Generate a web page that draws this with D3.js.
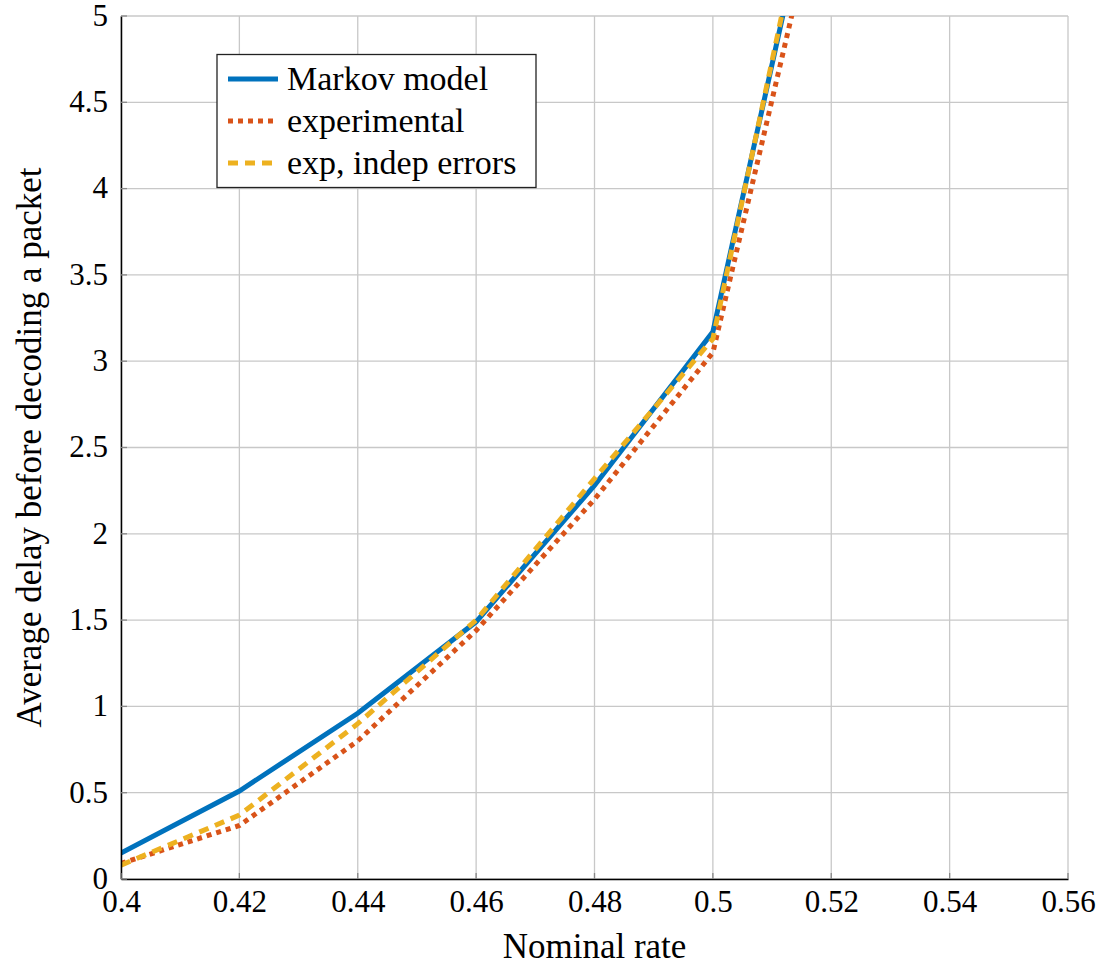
<!DOCTYPE html>
<html><head><meta charset="utf-8">
<script src="https://cdn.jsdelivr.net/npm/d3@7"></script>
<style>body{margin:0;background:#fff}svg{display:block}
svg text{font-family:"Liberation Serif","Times New Roman",serif !important;}
</style>
</head><body>
<svg id="c" width="1104" height="972"></svg>
<script>
const rates = [0.40, 0.42, 0.44, 0.46, 0.48, 0.50, 0.52];
const markov = [0.15, 0.51, 0.96, 1.49, 2.28, 3.17, 6.27];
const experimental = [0.09, 0.31, 0.80, 1.44, 2.20, 3.05, 5.98];
const expIndep = [0.08, 0.37, 0.90, 1.50, 2.32, 3.13, 6.35];
const xTicks = [0.4, 0.42, 0.44, 0.46, 0.48, 0.5, 0.52, 0.54, 0.56];
const yTicks = [0, 0.5, 1, 1.5, 2, 2.5, 3, 3.5, 4, 4.5, 5];
const seriesNames = ["Markov model", "experimental", "exp, indep errors"];
const seriesColors = ["#0072BD", "#D95319", "#EDB120"];
const seriesDash = [null, "5,5", "10,7"];

const svg = d3.select("#c");
const m = {l: 121, r: 1104 - 1068, t: 16, b: 972 - 879};
const W = 1104 - m.l - m.r, H = 972 - m.t - m.b;
const x = d3.scaleLinear().domain([0.4, 0.56]).range([m.l, m.l + W]);
const y = d3.scaleLinear().domain([0, 5]).range([m.t + H, m.t]);

const g = svg.append("g");
g.selectAll("line.vx").data(xTicks).enter().append("line")
  .attr("x1", d => x(d)).attr("x2", d => x(d)).attr("y1", m.t).attr("y2", m.t + H)
  .attr("stroke", "#c8c8c8").attr("stroke-width", 1.3);
g.selectAll("line.hy").data(yTicks).enter().append("line")
  .attr("y1", d => y(d)).attr("y2", d => y(d)).attr("x1", m.l).attr("x2", m.l + W)
  .attr("stroke", "#c8c8c8").attr("stroke-width", 1.3);

svg.append("clipPath").attr("id", "clip").append("rect")
  .attr("x", m.l).attr("y", m.t).attr("width", W).attr("height", H);

const line = d3.line().x(d => x(d[0])).y(d => y(d[1]));
const allSeries = [markov, experimental, expIndep];
const lg = svg.append("g").attr("clip-path", "url(#clip)");
allSeries.forEach((s, i) => {
  const p = lg.append("path").datum(rates.map((r, j) => [r, s[j]]))
    .attr("d", line).attr("fill", "none")
    .attr("stroke", seriesColors[i]).attr("stroke-width", 5)
    .attr("stroke-linejoin", "miter");
  if (seriesDash[i]) p.attr("stroke-dasharray", seriesDash[i]);
});

const xAxis = d3.axisBottom(x).tickValues(xTicks).tickFormat(d => String(+d.toFixed(2))).tickSize(0).tickPadding(11);
const yAxis = d3.axisLeft(y).tickValues(yTicks).tickFormat(d => String(d)).tickSize(0).tickPadding(13);
const xa = svg.append("g").attr("transform", `translate(0,${m.t + H})`).call(xAxis);
const ya = svg.append("g").attr("transform", `translate(${m.l},0)`).call(yAxis);
[xa, ya].forEach(a => {
  a.select(".domain").attr("stroke", "#000").attr("stroke-width", 1.5);
  a.selectAll("text").attr("font-size", 31).attr("fill", "#000");
});
xa.selectAll("text").attr("dy", "0.72em");
ya.selectAll("text").attr("dy", "0.3em");

svg.append("g").selectAll("line").data(xTicks).enter().append("line")
  .attr("x1", d => x(d)).attr("x2", d => x(d)).attr("y1", m.t + H).attr("y2", m.t + H - 6)
  .attr("stroke", "#888").attr("stroke-width", 1.3);
svg.append("g").selectAll("line").data(yTicks).enter().append("line")
  .attr("y1", d => y(d)).attr("y2", d => y(d)).attr("x1", m.l).attr("x2", m.l + 6)
  .attr("stroke", "#888").attr("stroke-width", 1.3);

svg.append("text").attr("x", x(0.48)).attr("y", 958).attr("text-anchor", "middle")
  .attr("font-size", 35).text("Nominal rate");
svg.append("text").attr("transform", `translate(41,${y(2.5)}) rotate(-90)`).attr("text-anchor", "middle")
  .attr("font-size", 35).text("Average delay before decoding a packet");

const leg = svg.append("g");
leg.append("rect").attr("x", 217).attr("y", 54.5).attr("width", 319).attr("height", 133)
  .attr("fill", "#fff").attr("stroke", "#222").attr("stroke-width", 1.3);
seriesNames.forEach((n, i) => {
  const yy = 79 + i * 42;
  const l = leg.append("line").attr("x1", 228).attr("x2", 278).attr("y1", yy).attr("y2", yy)
    .attr("stroke", seriesColors[i]).attr("stroke-width", 5);
  if (seriesDash[i]) l.attr("stroke-dasharray", seriesDash[i]);
  leg.append("text").attr("x", 287).attr("y", yy).attr("dy", "0.33em")
    .attr("font-size", 34).text(n);
});
</script>
</body></html>
